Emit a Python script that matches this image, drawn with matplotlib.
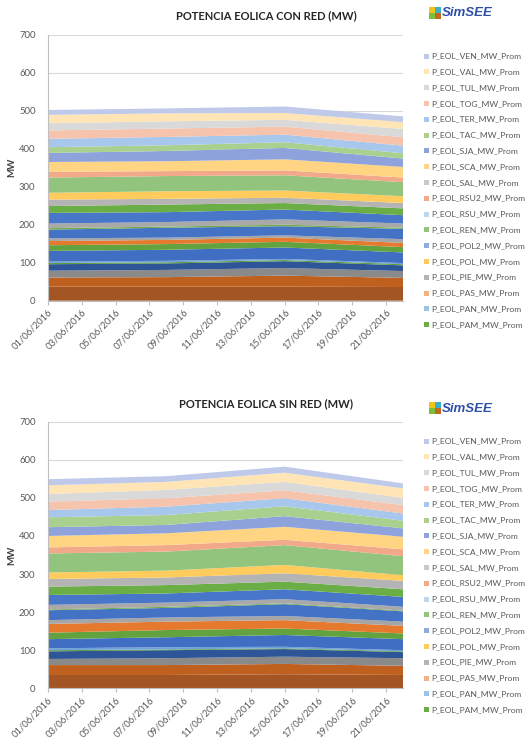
import matplotlib
matplotlib.use("Agg")
import matplotlib.pyplot as plt
import matplotlib.dates as mdates
from matplotlib.patches import Rectangle
import numpy as np
import datetime as dt

plt.rcParams['font.family'] = ['Lato', 'DejaVu Sans']

# ---------------- data ----------------
dates = ["2016-06-01", "2016-06-08", "2016-06-15", "2016-06-22"]
tick_dates = ["2016-06-01", "2016-06-03", "2016-06-05", "2016-06-07", "2016-06-09",
              "2016-06-11", "2016-06-13", "2016-06-15", "2016-06-17", "2016-06-19", "2016-06-21"]

# series from bottom of stack to top
series_names = [
    "P_EOL_ART_MW_Prom", "P_EOL_CAR_MW_Prom", "P_EOL_COL_MW_Prom", "P_EOL_EMA_MW_Prom",
    "P_EOL_FLO_MW_Prom", "P_EOL_GCH_MW_Prom", "P_EOL_IGN_MW_Prom", "P_EOL_JUA_MW_Prom",
    "P_EOL_KEN_MW_Prom", "P_EOL_LLU_MW_Prom", "P_EOL_LUZ_MW_Prom", "P_EOL_MAG_MW_Prom",
    "P_EOL_MIN_MW_Prom", "P_EOL_NUE_MW_Prom",
    "P_EOL_PAM_MW_Prom", "P_EOL_PAN_MW_Prom", "P_EOL_PAS_MW_Prom", "P_EOL_PIE_MW_Prom",
    "P_EOL_POL_MW_Prom", "P_EOL_POL2_MW_Prom", "P_EOL_REN_MW_Prom", "P_EOL_RSU_MW_Prom",
    "P_EOL_RSU2_MW_Prom", "P_EOL_SAL_MW_Prom", "P_EOL_SCA_MW_Prom", "P_EOL_SJA_MW_Prom",
    "P_EOL_TAC_MW_Prom", "P_EOL_TER_MW_Prom", "P_EOL_TOG_MW_Prom", "P_EOL_TUL_MW_Prom",
    "P_EOL_VAL_MW_Prom", "P_EOL_VEN_MW_Prom",
]

con_red = [
    [37, 37, 37, 36],
    [24, 25, 29, 24],
    [18, 19, 20, 18],
    [17, 17, 18, 15],
    [3, 3, 3, 3],
    [4, 4, 3, 3],
    [28, 29, 30, 28],
    [15, 15, 15, 14],
    [11, 11, 11, 11],
    [7, 6, 6, 10],
    [23, 26, 24, 27],
    [4, 3, 4, 3],
    [12, 12, 14, 11],
    [28, 26, 26, 22],
    [18, 20, 17, 18],   # PAM
    [0, 0, 0, 0],       # PAN
    [0, 0, 0, 0],       # PAS
    [17, 15, 14, 14],   # PIE
    [18, 20, 19, 18],   # POL
    [0, 0, 0, 0],       # POL2
    [40, 40, 40, 37],   # REN
    [0, 0, 0, 0],       # RSU
    [15, 13, 13, 12],   # RSU2
    [0, 0, 0, 0],       # SAL
    [26, 26, 29, 28],   # SCA
    [24, 27, 30, 22],   # SJA
    [15, 15, 15, 14],   # TAC
    [22, 22, 20, 20],   # TER
    [22, 22, 21, 22],   # TOG
    [19, 19, 18, 22],   # TUL
    [22, 21, 18, 18],   # VAL
    [13, 13, 17, 15],   # VEN
]

sin_red = [
    [35, 35, 37, 35],
    [26, 26, 27, 24],
    [16, 18, 19, 20],
    [20, 21, 20, 16],
    [3, 2, 2, 2],
    [5, 6, 4, 3],
    [24, 26, 31, 29],
    [17, 19, 17, 15],
    [23, 22, 22, 20],
    [10, 11, 11, 11],
    [26, 25, 31, 27],
    [2, 3, 2, 2],
    [12, 11, 11, 10],
    [26, 24, 26, 26],
    [22, 22, 20, 20],   # PAM
    [0, 0, 0, 0],       # PAN
    [0, 0, 0, 0],       # PAS
    [20, 20, 22, 22],   # PIE
    [17, 18, 22, 15],   # POL
    [0, 0, 0, 0],       # POL2
    [50, 50, 52, 50],   # REN
    [0, 0, 0, 0],       # RSU
    [16, 17, 14, 18],   # RSU2
    [0, 0, 0, 0],       # SAL
    [30, 31, 34, 33],   # SCA
    [23, 22, 28, 22],   # SJA
    [26, 26, 26, 20],   # TAC
    [19, 22, 21, 19],   # TER
    [22, 22, 21, 22],   # TOG
    [20, 22, 22, 19],   # TUL
    [23, 21, 24, 25],   # VAL
    [16, 15, 16, 13],   # VEN
]

colors = [
    "#A35623", "#C0601E", "#8A8A8A", "#2E5597", "#5E9E3A", "#6FA3D8",
    "#3F6EC3", "#62A33F", "#E57A2E", "#A6A6A6", "#4472C4", "#70AD47",
    "#A9A9A9", "#4876C8",
    "#6BAE45", "#9DC3E6", "#F4B183", "#B4B4B4", "#FFCB5C", "#8FAADC",
    "#93C47D", "#BDD7EE", "#F2A98A", "#C9C9C9", "#FFD583", "#8EA3DB",
    "#A9D08E", "#A7C7EC", "#F6C3AD", "#D9D9D9", "#FFE4B5", "#BFC9EA",
]

titles = ["POTENCIA EOLICA CON RED (MW)", "POTENCIA EOLICA SIN RED (MW)"]
n_legend = 18  # entries that fit in the legend box (top of stack first)

# ---------------- figure ----------------
W, H = 528, 738
fig = plt.figure(figsize=(W / 100, H / 100), dpi=100)

x = [mdates.date2num(dt.datetime.strptime(d, "%Y-%m-%d")) for d in dates]
xt = [mdates.date2num(dt.datetime.strptime(d, "%Y-%m-%d")) for d in tick_dates]

TXT = "#595959"

def fx(px):
    return px / W

def fy(py):
    return 1 - py / H

panels = [
    dict(data=con_red, top=34.7, bottom=300.7, title_y=16, logo_y=13, leg_y0=56),
    dict(data=sin_red, top=421.7, bottom=688.3, title_y=404, logo_y=408, leg_y0=441),
]

for p, title in zip(panels, titles):
    ax = fig.add_axes([fx(48), fy(p["bottom"]), fx(403) - fx(48), (p["bottom"] - p["top"]) / H])
    ax.stackplot(x, np.array(p["data"]), colors=colors, linewidth=0)
    ax.set_xlim(mdates.date2num(dt.datetime(2016, 6, 1)), mdates.date2num(dt.datetime(2016, 6, 22)))
    ax.set_ylim(0, 700)
    ax.set_yticks(np.arange(0, 701, 100))
    ax.yaxis.grid(True, color="#D9D9D9", linewidth=0.8)
    ax.set_axisbelow(True)
    ax.set_xticks(xt)
    ax.xaxis.set_major_formatter(mdates.DateFormatter("%d/%m/%Y"))
    for lab in ax.get_xticklabels():
        lab.set_rotation(45)
        lab.set_ha("right")
        lab.set_rotation_mode("anchor")
    ax.tick_params(axis="x", length=3, color="#BFBFBF", labelsize=6.8, labelcolor=TXT, pad=2)
    ax.tick_params(axis="y", length=0, labelsize=6.8, labelcolor=TXT, pad=9)
    for s in ["top", "right"]:
        ax.spines[s].set_visible(False)
    ax.spines["left"].set_color("#BFBFBF")
    ax.spines["bottom"].set_color("#BFBFBF")
    ax.set_ylabel("MW", fontsize=7, fontweight="bold", color="#404040", labelpad=2)

    fig.text(fx(266), fy(p["title_y"]), title, ha="center", va="center",
             fontsize=8, fontweight="bold", color="#262626")

    # logo
    ly = p["logo_y"]
    sq = 5.5
    for (dx, dy, c) in [(0, 0, "#F2C318"), (sq + 0.5, 0, "#3AB0C8"),
                        (0, sq + 0.5, "#7DBF3A"), (sq + 0.5, sq + 0.5, "#C06A1C")]:
        fig.patches.append(Rectangle((fx(429 + dx), fy(ly - 6 + dy + sq)), sq / W, sq / H,
                                     transform=fig.transFigure, facecolor=c, edgecolor="none"))
    fig.text(fx(442), fy(ly + 0.5), "SimSEE", ha="left", va="center", fontsize=9.5,
             fontweight="bold", fontstyle="italic", color="#2E4FA8", family=["Liberation Sans", "DejaVu Sans"])

    # legend (top of stack first)
    for i in range(n_legend):
        k = len(series_names) - 1 - i
        yy = p["leg_y0"] + i * 15.8
        fig.patches.append(Rectangle((fx(424), fy(yy + 2.5)), 5 / W, 5 / H,
                                     transform=fig.transFigure, facecolor=colors[k], edgecolor="none"))
        fig.text(fx(431), fy(yy), series_names[k], ha="left", va="center",
                 fontsize=6.1, color=TXT)

fig.savefig("out.png", dpi=100)
